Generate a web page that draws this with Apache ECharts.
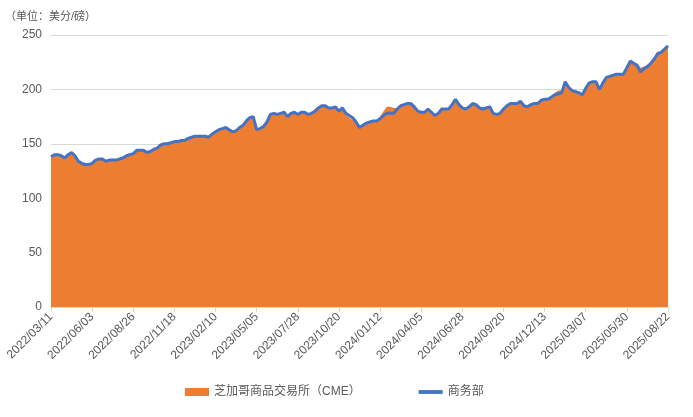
<!DOCTYPE html>
<html lang="zh">
<head>
    <meta charset="UTF-8">
    <title>芝加哥商品交易所与商务部价格</title>
    <script src="https://cdn.jsdelivr.net/npm/echarts@6.0.0/dist/echarts.min.js"></script>
</head>
<body style="margin:0">
    <div id="main" style="width:693px;height:417px;"></div>
    <script type="text/javascript">
        // weekly dates, starting 2022/03/11
        const startDate = [2022, 3, 11];
        const weekCount = 181;

        // 商务部 (line)
        const mofcom = [
            138, 140, 140, 139, 137, 140, 142, 139, 134, 132,
            131, 131, 132, 135, 136, 136, 134, 135, 135, 135,
            136, 137, 139, 140, 141, 144, 144, 144, 142, 143,
            145, 146, 149, 150, 150, 151, 152, 152, 153, 153,
            155, 156, 157, 157, 157, 157, 156, 159, 161, 163,
            164, 165, 163, 161, 162, 165, 167, 171, 174, 175,
            163, 164, 166, 170, 177, 178, 177, 178, 179, 175,
            178, 179, 177, 179, 179, 177, 178, 180, 183, 185,
            185, 183, 183, 184, 180, 183, 178, 176, 174, 170,
            165, 167, 169, 170, 171, 171, 173, 176, 178, 178,
            178, 182, 185, 186, 187, 187, 184, 180, 179, 179,
            182, 179, 176, 178, 182, 182, 182, 186, 191, 186,
            183, 182, 184, 187, 186, 183, 182, 183, 184, 178,
            177, 178, 182, 185, 187, 187, 187, 189, 185, 184,
            186, 187, 187, 190, 191, 191, 193, 195, 196, 197,
            207, 202, 199, 198, 197, 195, 201, 206, 207, 207,
            200, 206, 211, 212, 213, 214, 214, 214, 220, 226,
            224, 222, 216, 219, 221, 224, 228, 233, 234, 237,
            240
        ];

        // 芝加哥商品交易所（CME） (area)
        const cme = [
            137, 140, 140, 139, 137, 140, 142, 139, 134, 132,
            131, 131, 132, 135, 136, 136, 134, 135, 135, 135,
            136, 137, 139, 140, 141, 144, 144, 144, 142, 143,
            145, 146, 149, 150, 150, 151, 152, 152, 153, 153,
            155, 156, 157, 157, 157, 157, 156, 159, 161, 163,
            164, 165, 163, 161, 162, 165, 167, 171, 174, 175,
            163, 164, 166, 170, 177, 178, 177, 178, 179, 175,
            178, 179, 177, 179, 179, 177, 178, 180, 184, 185,
            185, 183, 183, 184, 180, 183, 177, 174, 172, 169,
            165, 167, 169, 170, 171, 171, 175, 180, 184, 184,
            183, 183, 185, 186, 187, 187, 184, 180, 179, 179,
            182, 179, 176, 178, 182, 182, 182, 186, 191, 186,
            183, 182, 184, 187, 186, 183, 182, 183, 184, 178,
            177, 178, 182, 185, 187, 187, 187, 189, 185, 184,
            186, 187, 187, 190, 191, 191, 193, 197, 199, 199,
            207, 202, 199, 198, 197, 195, 201, 206, 207, 207,
            200, 206, 211, 212, 213, 214, 214, 214, 220, 226,
            224, 224, 220, 221, 222, 224, 228, 233, 234, 237,
            240
        ];

        const yTicks = [0, 50, 100, 150, 200, 250];

        const pad = n => (n < 10 ? '0' : '') + n;
        const dates = [];
        for (let i = 0; i < weekCount; i++) {
            const d = new Date(startDate[0], startDate[1] - 1, startDate[2] + i * 7);
            dates.push(d.getFullYear() + '/' + pad(d.getMonth() + 1) + '/' + pad(d.getDate()));
        }

        const font = '"Liberation Sans", "Noto Sans CJK SC", sans-serif';
        let myChart = echarts.init(document.getElementById('main'));

        let options = {
            animation: false,
            textStyle: { fontFamily: font },
            title: {
                text: '（单位：美分/磅）',
                left: 0,
                top: 6,
                textStyle: { fontSize: 11, fontWeight: 'normal', color: '#595959' }
            },
            grid: { left: 51, right: 25, top: 35, bottom: 110, containLabel: false },
            legend: {
                bottom: 14,
                left: 180,
                itemGap: 58,
                itemWidth: 24,
                itemHeight: 8,
                textStyle: { fontSize: 12, color: '#595959' },
                data: [
                    { name: '芝加哥商品交易所（CME）', icon: 'rect' },
                    { name: '商务部', icon: 'path://M0,0 L25,0 L25,4 L0,4 Z' }
                ]
            },
            xAxis: {
                type: 'category',
                data: dates,
                boundaryGap: false,
                axisLine: { lineStyle: { color: '#d9d9d9' } },
                axisTick: { interval: 11, lineStyle: { color: '#d9d9d9' } },
                axisLabel: { interval: 11, rotate: 45, fontSize: 12, color: '#595959', margin: 8 }
            },
            yAxis: {
                type: 'value',
                min: yTicks[0],
                max: yTicks[yTicks.length - 1],
                interval: 50,
                axisLine: { show: false },
                axisTick: { show: false },
                axisLabel: { fontSize: 12, color: '#595959', margin: 9 },
                splitLine: { lineStyle: { color: '#d9d9d9' } }
            },
            series: [
                {
                    name: '芝加哥商品交易所（CME）',
                    type: 'line',
                    data: cme,
                    symbol: 'none',
                    lineStyle: { width: 0 },
                    itemStyle: { color: '#ED7D31' },
                    areaStyle: { color: '#ED7D31', opacity: 1 }
                },
                {
                    name: '商务部',
                    type: 'line',
                    data: mofcom,
                    symbol: 'none',
                    itemStyle: { color: '#4472C4' },
                    lineStyle: { color: '#4472C4', width: 3 }
                }
            ]
        };

        myChart.setOption(options);
    </script>
</body>
</html>
